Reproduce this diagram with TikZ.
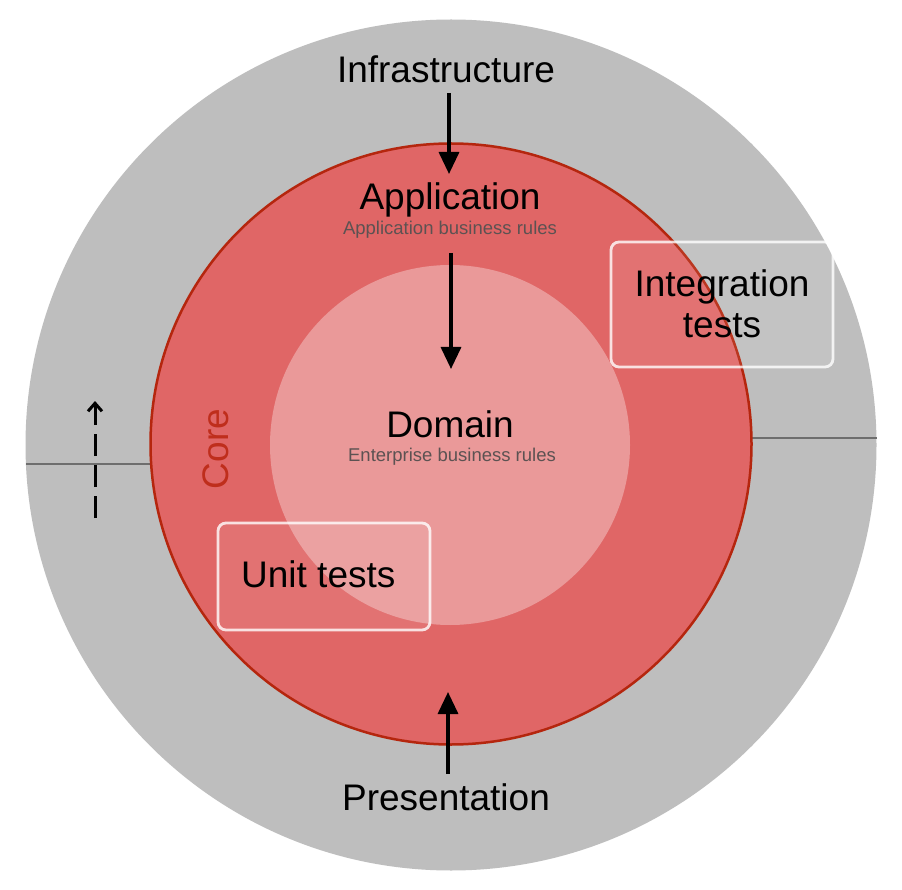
\documentclass[tikz,border=0pt]{standalone}
\usepackage{fontspec}
\setmainfont{Liberation Sans}
\usetikzlibrary{arrows.meta}
\definecolor{ringgray}{HTML}{BEBEBE}
\definecolor{corered}{HTML}{E06666}
\definecolor{domainpink}{HTML}{EA9999}
\definecolor{rimred}{HTML}{B5260E}
\definecolor{coretext}{HTML}{BF2E1C}
\definecolor{subgray}{HTML}{5C5252}
\definecolor{divider}{HTML}{6E6E6E}
\tikzset{
  biglabel/.style={font=\fontsize{37}{44}\selectfont, text=black, inner sep=0pt, anchor=base},
  sublabel/.style={font=\fontsize{18.5}{22}\selectfont, text=subgray, inner sep=0pt, anchor=base},
  flowarrow/.style={line width=3.3pt, -{Triangle[length=22pt,width=20pt]}},
  testbox/.style={draw=white, draw opacity=0.8, line width=2.8pt, fill=white, fill opacity=0.08, rounded corners=8pt, inner sep=0pt},
  dividerline/.style={draw=divider, line width=1.5pt},
}
\begin{document}
\begin{tikzpicture}[x=1pt,y=-1pt]
\useasboundingbox[fill=white] (0,0) rectangle (902,890);
% rings
\fill[ringgray] (451,445) circle[radius=425.5];
\draw[dividerline] (26,464) coordinate (dl1) -- (150,464) coordinate (dl2);
\draw[dividerline] (752,438) coordinate (dr1) -- (877,438) coordinate (dr2);
\filldraw[fill=corered, draw=rimred, line width=2.5pt] (451,444) circle[radius=300.5];
\fill[domainpink] (450,445) circle[radius=180];
% labels
\node[biglabel] (infra) at (446,83) {Infrastructure};
\node[biglabel] (app) at (450,210) {Application};
\node[sublabel] (appsub) at (450,235) {Application business rules};
\node[biglabel] (domain) at (450,437) {Domain};
\node[sublabel] (domsub) at (452,461) {Enterprise business rules};
\node[biglabel] (pres) at (446,810) {Presentation};
\node[font=\fontsize{37}{44}\selectfont, text=coretext, inner sep=0pt, anchor=base, rotate=90] (core) at (228,449) {Core};
% test boxes
\node[testbox, minimum width=222pt, minimum height=125pt] (intbox) at (722,304.5) {};
\node[biglabel] (int1) at (722,297) {Integration};
\node[biglabel] (int2) at (722,338) {tests};
\node[testbox, minimum width=212pt, minimum height=107pt] (unitbox) at (324,576.5) {};
\node[biglabel, anchor=base west] (unit) at (241,587) {Unit tests};
% arrows
\coordinate (infraA) at (449,93);
\coordinate (infraB) at (449,174);
\coordinate (appA) at (451,253);
\coordinate (appB) at (451,369);
\coordinate (presA) at (448,774);
\coordinate (presB) at (448,692);
\coordinate (dashA) at (95,518);
\coordinate (dashB) at (95,401);
\draw[flowarrow] (infraA) -- (infraB);
\draw[flowarrow] (appA) -- (appB);
\draw[flowarrow] (presA) -- (presB);
\draw[line width=3pt, dash pattern=on 22pt off 9pt, -{Straight Barb[length=8pt,width=14pt]}] (dashA) -- (dashB);
\end{tikzpicture}
\end{document}
